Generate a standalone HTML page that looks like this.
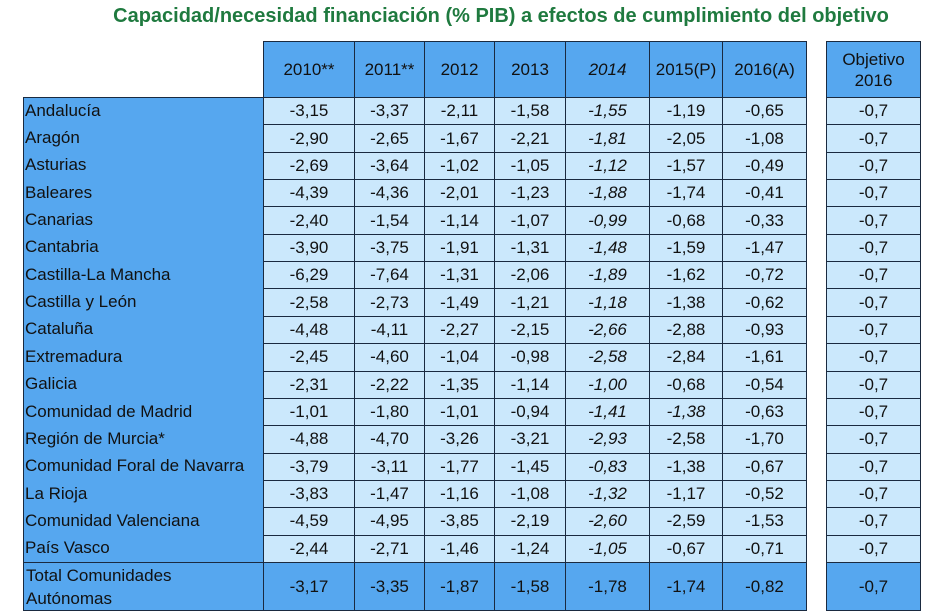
<!DOCTYPE html>
<html><head><meta charset="utf-8"><style>
body{margin:0;width:939px;height:616px;background:#fff;position:relative;overflow:hidden;font-family:"Liberation Sans",sans-serif;}
.c{position:absolute;box-sizing:border-box;display:flex;align-items:center;justify-content:center;font-size:17px;color:#111;}
.t{position:absolute;left:0;width:1002px;top:5px;text-align:center;font-weight:bold;color:#1f7a3f;font-size:20px;}
</style></head><body>
<div class="t">Capacidad/necesidad financiación (% PIB) a efectos de cumplimiento del objetivo</div>
<div id="tbl"></div>
<script>
const headers=["2010**","2011**","2012","2013","2014","2015(P)","2016(A)"];
const regions=["Andalucía","Aragón","Asturias","Baleares","Canarias","Cantabria","Castilla-La Mancha","Castilla y León","Cataluña","Extremadura","Galicia","Comunidad de Madrid","Región de Murcia*","Comunidad Foral de Navarra","La Rioja","Comunidad Valenciana","País Vasco"];
const values=[
["-3,15","-3,37","-2,11","-1,58","-1,55","-1,19","-0,65"],
["-2,90","-2,65","-1,67","-2,21","-1,81","-2,05","-1,08"],
["-2,69","-3,64","-1,02","-1,05","-1,12","-1,57","-0,49"],
["-4,39","-4,36","-2,01","-1,23","-1,88","-1,74","-0,41"],
["-2,40","-1,54","-1,14","-1,07","-0,99","-0,68","-0,33"],
["-3,90","-3,75","-1,91","-1,31","-1,48","-1,59","-1,47"],
["-6,29","-7,64","-1,31","-2,06","-1,89","-1,62","-0,72"],
["-2,58","-2,73","-1,49","-1,21","-1,18","-1,38","-0,62"],
["-4,48","-4,11","-2,27","-2,15","-2,66","-2,88","-0,93"],
["-2,45","-4,60","-1,04","-0,98","-2,58","-2,84","-1,61"],
["-2,31","-2,22","-1,35","-1,14","-1,00","-0,68","-0,54"],
["-1,01","-1,80","-1,01","-0,94","-1,41","-1,38","-0,63"],
["-4,88","-4,70","-3,26","-3,21","-2,93","-2,58","-1,70"],
["-3,79","-3,11","-1,77","-1,45","-0,83","-1,38","-0,67"],
["-3,83","-1,47","-1,16","-1,08","-1,32","-1,17","-0,52"],
["-4,59","-4,95","-3,85","-2,19","-2,60","-2,59","-1,53"],
["-2,44","-2,71","-1,46","-1,24","-1,05","-0,67","-0,71"]];
const totals=["-3,17","-3,35","-1,87","-1,58","-1,78","-1,74","-0,82"];
const objective=["-0,7"];
const xs=[263,354,424,494,565,649,722,806];
const DARK="#56a7ef",LIGHT="#cbe8fc",B="1px solid #1a2a40";
const tb=document.getElementById('tbl');
function cell(x,y,w,h,txt,bg,extra,name){
 const d=document.createElement('div');d.className='c';
 d.style.cssText+=`left:${x}px;top:${y}px;width:${w}px;height:${h}px;background:${bg};`+(extra||'');
 d.textContent=txt;
 
 
 tb.appendChild(d);return d;}
const hTop=41,hBot=97,rh=(562-97)/regions.length,tTop=562,tBot=611;
headers.forEach((h,i)=>cell(xs[i],hTop,xs[i+1]-xs[i]+1,hBot-hTop+1,h,DARK,`border:${B};`+(i==4?'font-style:italic;':''),'header-cell'));
cell(826,hTop,95,hBot-hTop+1,'Objetivo\n2016',DARK,`border:${B};white-space:pre;text-align:center;line-height:21px;`,'objective-header');
cell(23,hBot,241,tTop-hBot+1,'',DARK,`border:${B};`,'region-column');
regions.forEach((r,j)=>{
 const y=hBot+j*rh;
 cell(25,y,238,rh,r,'transparent','justify-content:flex-start;','region-label');
 values[j].forEach((v,i)=>cell(xs[i],y,xs[i+1]-xs[i]+1,rh+1,v,LIGHT,`border:${B};`+(i==4?'font-style:italic;':'')+(j==11&&i==5?'font-style:italic;':''),'value-cell'));
 cell(826,y,95,rh+1,objective[0],LIGHT,`border:${B};`,'objective-cell');
});
cell(23,tTop,241,tBot-tTop,'Total Comunidades\nAutónomas',DARK,`border:${B};justify-content:flex-start;padding-left:2px;white-space:pre;line-height:23px;`,'total-label');
totals.forEach((v,i)=>cell(xs[i],tTop,xs[i+1]-xs[i]+1,tBot-tTop,v,DARK,`border:${B};`,'total-cell'));
cell(826,tTop,95,tBot-tTop,objective[0],DARK,`border:${B};`,'objective-total');
</script>
</body></html>
